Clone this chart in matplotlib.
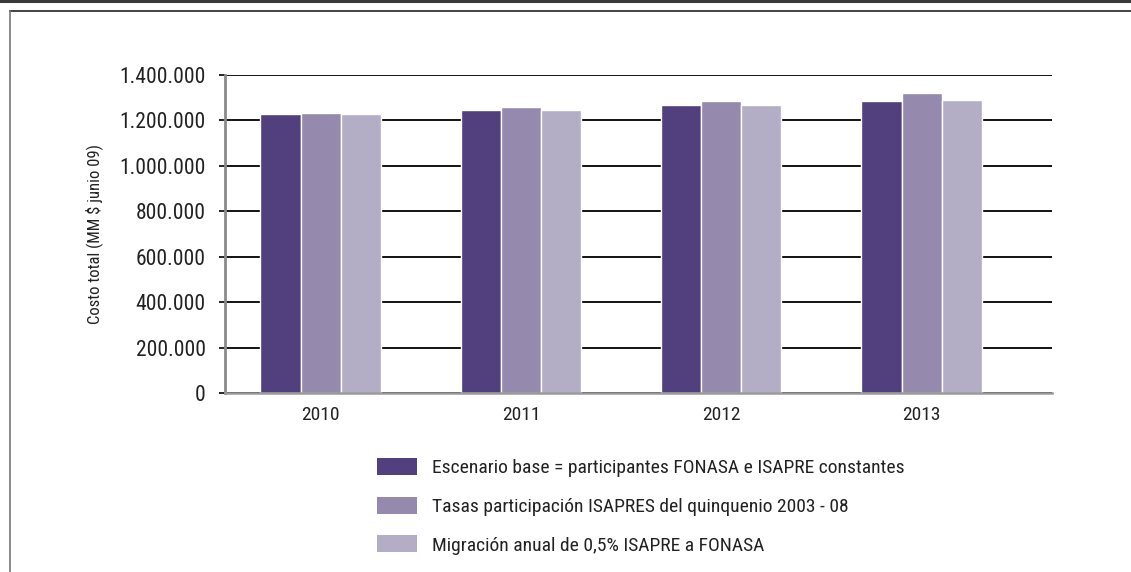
import numpy as np
import matplotlib
matplotlib.use("Agg")
import matplotlib.pyplot as plt
from matplotlib.lines import Line2D
from matplotlib.patches import Patch
from matplotlib.ticker import FuncFormatter

plt.rcParams['font.family'] = ['Roboto Condensed', 'DejaVu Sans']

# data (MM $ junio 09)
years = ['2010', '2011', '2012', '2013']
escenario_base = [1230000, 1248000, 1270000, 1284000]
tasas_isapres = [1233000, 1261000, 1284000, 1320000]
migracion = [1230000, 1248000, 1270000, 1288000]
series_labels = [
    'Escenario base = participantes FONASA e ISAPRE constantes',
    'Tasas participación ISAPRES del quinquenio 2003 - 08',
    'Migración anual de 0,5% ISAPRE a FONASA',
]
colors = ['#523f7d', '#9589ae', '#b4adc6']
txt = '#222222'

W, H = 1131, 572
fig = plt.figure(figsize=(W / 100, H / 100), dpi=100)

# outer frame lines
fig.add_artist(Line2D([0, 1], [1 - 0.5 / H, 1 - 0.5 / H], color='#3a3a3a', lw=2.2))
fig.add_artist(Line2D([10 / W, 1], [1 - 11 / H, 1 - 11 / H], color='#222222', lw=1.2))
fig.add_artist(Line2D([10 / W, 10 / W], [0, 1 - 11 / H], color='#777777', lw=1.2))

ax = fig.add_axes([225 / W, 1 - 393 / H, 827 / W, 318 / H])

x = np.arange(len(years))
w = 0.2
for i, (vals, c) in enumerate(zip([escenario_base, tasas_isapres, migracion], colors)):
    ax.bar(x + (i - 1) * w, vals, width=w, color=c, edgecolor='white', linewidth=1,
           zorder=3, label=series_labels[i])

ax.set_xlim(-0.477, 3.651)
ax.set_ylim(0, 1400000)
ax.set_yticks(np.arange(0, 1400001, 200000))
ax.yaxis.set_major_formatter(FuncFormatter(lambda v, p: f'{int(v):,}'.replace(',', '.')))
ax.set_xticks(x)
ax.set_xticklabels(years)

ax.grid(axis='y', color='black', lw=1.3, zorder=1)
for s in ['top', 'right']:
    ax.spines[s].set_visible(False)
ax.spines['left'].set_color('#8a8a8a')
ax.spines['left'].set_linewidth(2)
ax.spines['bottom'].set_color('#9a9a9a')
ax.spines['bottom'].set_linewidth(1.8)
ax.spines['bottom'].set_zorder(4)

ax.tick_params(axis='y', length=4, width=1.2, color='black', labelsize=15.5, pad=10,
               labelcolor=txt)
ax.tick_params(axis='x', length=0, labelsize=14, pad=9, labelcolor=txt)

ax.set_ylabel('Costo total (MM $ junio 09)', fontsize=12, color=txt, labelpad=12)

handles = [Patch(facecolor=c, edgecolor='none') for c in colors]
fs = 14
px = fs * 100 / 72
fig.legend(handles, series_labels, loc='upper left',
           bbox_to_anchor=(377 / W, 1 - 458 / H), bbox_transform=fig.transFigure,
           frameon=False, fontsize=fs, borderpad=0, borderaxespad=0,
           handlelength=40 / px, handleheight=19 / px,
           handletextpad=15 / px, labelspacing=1.0, labelcolor=txt)

fig.savefig('out.png', dpi=100)
